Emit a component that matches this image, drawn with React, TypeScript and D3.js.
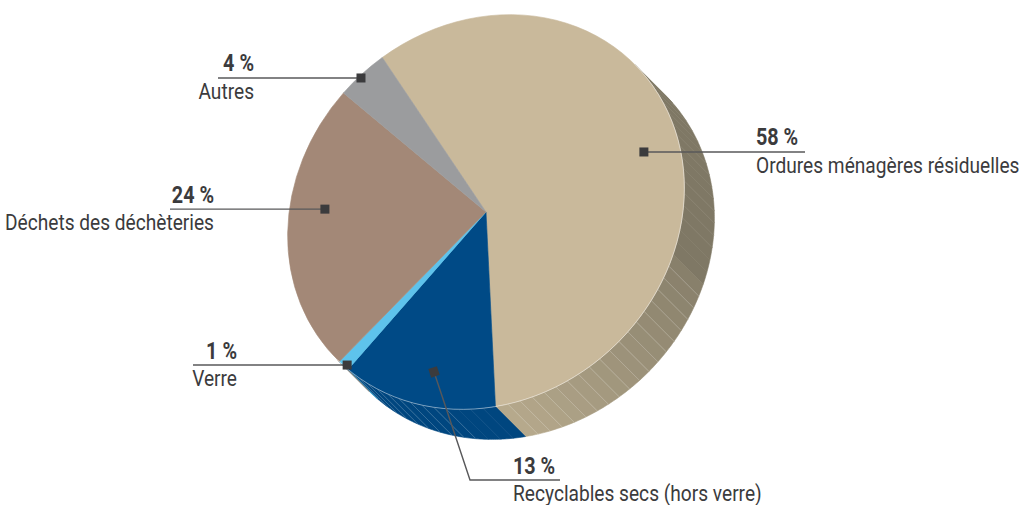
import * as d3 from 'd3';

// slices, clockwise from the top-left
const categories = [
  'Ordures ménagères résiduelles',
  'Recyclables secs (hors verre)',
  'Verre',
  'Déchets des déchèteries',
  'Autres',
];
const values = [58, 13, 1, 24, 4];
const pctLabels = ['58 %', '13 %', '1 %', '24 %', '4 %'];

const topColors = ['#c9b99b', '#004a86', '#5ec3ec', '#a38877', '#9b9c9e'];

// label placement (marker angle in degrees clockwise from 3 o'clock, radius fraction)
const labelLayout = [
  { side: 'right', mAngle: -18.2, mR: 0.823, textX: 756, lineEnd: 805 },
  { side: 'right', mAngle: 105, mR: 0.827, textX: 513, lineEnd: 560, elbow: [470, 480] },
  { side: 'left', mAngle: 131.7, mR: 0.987, textX: 237, lineEnd: 193 },
  { side: 'left', mAngle: 184.5, mR: 0.82, textX: 214, lineEnd: 170 },
  { side: 'left', mAngle: 226.9, mR: 0.988, textX: 254, lineEnd: 218 },
];

const W = 1019;
const H = 505;
const cx = 486;
const cy = 212;
// tilted disk: unit circle -> screen
const M = { a: 198, b: -12, c: -12, d: 197 };
const depth = { x: 30, y: 30 };
const R = 100;
const rad = Math.PI / 180;

const textColor = '#3b3b3d';
const lineColor = '#58585a';

// d3 angle (clockwise from 12 o'clock) -> screen point
function project(angle: number, r = 1): [number, number] {
  const ux = r * Math.sin(angle);
  const uy = -r * Math.cos(angle);
  return [cx + M.a * ux + M.c * uy, cy + M.b * ux + M.d * uy];
}

function wallShade(i: number, theta: number) {
  if (i === 0) {
    if (theta < 16) return '#7f7865';
    const t = Math.min(1, (theta - 16) / 68);
    return d3.interpolateRgb('#877f6a', '#b7aa8d')(t);
  }
  if (i === 1) return '#00467f';
  if (i === 2) return '#4aa8d2';
  if (i === 3) return '#8a7263';
  return '#85868a';
}

export default function App() {
  const pie = d3.pie<number>()
    .sort(null)
    .startAngle(-35 * rad)
    .endAngle(325 * rad)(values);

  const arc = d3.arc<d3.PieArcDatum<number>>().innerRadius(0).outerRadius(R);

  const visA0 = 45 * rad;
  const visA1 = 225 * rad;
  const step = 3.6 * rad;

  // side wall facets + hatch lines
  const facets: { d: string; fill: string }[] = [];
  const hatches: { x1: number; y1: number; x2: number; y2: number }[] = [];
  pie.forEach((p, i) => {
    const a0 = Math.max(p.startAngle, visA0);
    const a1 = Math.min(p.endAngle, visA1);
    if (a0 >= a1) return;
    const n = Math.max(1, Math.ceil((a1 - a0) / step));
    for (let k = 0; k < n; k++) {
      const s = a0 + ((a1 - a0) * k) / n;
      const e = a0 + ((a1 - a0) * (k + 1)) / n;
      const pts: [number, number][] = [];
      const sub = 6;
      for (let j = 0; j <= sub; j++) pts.push(project(s + ((e - s) * j) / sub));
      for (let j = sub; j >= 0; j--) {
        const [x, y] = project(s + ((e - s) * j) / sub);
        pts.push([x + depth.x, y + depth.y]);
      }
      const theta = ((s + e) / 2) / rad - 90;
      facets.push({ d: 'M' + pts.map(q => q.join(',')).join('L') + 'Z', fill: wallShade(i, theta) });
      if (k > 0) {
        const th = s / rad - 90;
        const hatched = (i === 0 && th > 16) || (i === 1 && th > 98);
        if (hatched) {
          const [x, y] = project(s);
          hatches.push({ x1: x, y1: y, x2: x + depth.x, y2: y + depth.y });
        }
      }
    }
  });

  // light rim between top face and wall
  const rimPts: [number, number][] = d3.range(0, 61).map(j => project(visA0 + ((visA1 - visA0) * j) / 60));
  const rim = d3.line()(rimPts) ?? '';

  const nameFont = 'Roboto, "Liberation Sans", sans-serif';

  return (
    <svg width={W} height={H} style={{ position: 'absolute', left: 0, top: 0 }}>
      <g>
        {facets.map((f, i) => (
          <path key={i} d={f.d} fill={f.fill} stroke={f.fill} strokeWidth={0.6} />
        ))}
        {hatches.map((h, i) => (
          <line key={i} {...h} stroke="#ffffff" strokeOpacity={0.25} strokeWidth={0.7} />
        ))}
      </g>
      <g transform={`matrix(${M.a / R},${M.b / R},${M.c / R},${M.d / R},${cx},${cy})`}>
        {pie.map((p, i) => (
          <path key={i} d={arc(p) ?? ''} fill={topColors[i]} stroke={topColors[i]} strokeWidth={0.3} />
        ))}
      </g>
      <path d={rim} fill="none" stroke="#ffffff" strokeOpacity={0.45} strokeWidth={1} />

      {labelLayout.map((l, i) => {
        const [mx, my] = project((l.mAngle + 90) * rad, l.mR);
        let lineD: string;
        let lineY: number;
        let rot = 0;
        if (l.elbow) {
          const [ex, ey] = l.elbow;
          lineD = `M${mx},${my}L${ex},${ey}L${l.lineEnd},${ey}`;
          lineY = ey;
          rot = (Math.atan2(ey - my, ex - mx) / rad);
        } else {
          lineD = `M${mx},${my}L${l.lineEnd},${my}`;
          lineY = my;
        }
        const anchor = l.side === 'left' ? 'end' : 'start';
        return (
          <g key={i}>
            <path d={lineD} fill="none" stroke={lineColor} strokeWidth={1.4} />
            <rect x={-4.5} y={-4.5} width={9} height={9} fill={textColor}
              transform={`translate(${mx},${my}) rotate(${rot})`} />
            <g transform={`translate(${l.textX},${lineY - 6.5}) scale(0.86,1)`}>
              <text textAnchor={anchor} fontFamily={nameFont} fontWeight={700} fontSize={23} fill={textColor}>
                {pctLabels[i]}
              </text>
            </g>
            <g transform={`translate(${l.textX},${lineY + 21}) scale(0.87,1)`}>
              <text textAnchor={anchor} fontFamily={nameFont} fontSize={22} fill={textColor}>
                {categories[i]}
              </text>
            </g>
          </g>
        );
      })}
    </svg>
  );
}
